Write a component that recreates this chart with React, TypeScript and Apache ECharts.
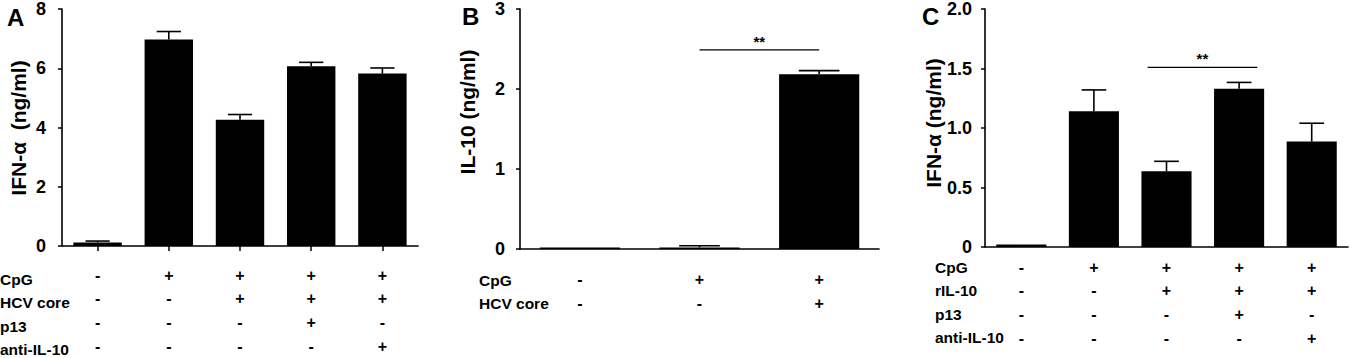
import React, { useEffect, useRef } from "react";
import * as echarts from "echarts";

// Panel A: IFN-alpha (ng/ml)
const aCpG = ["-", "+", "+", "+", "+"];
const aHCV = ["-", "-", "+", "+", "+"];
const aP13 = ["-", "-", "-", "+", "-"];
const aAnti = ["-", "-", "-", "-", "+"];
const aValues = [0.12, 6.97, 4.26, 6.07, 5.82];
const aErrTop = [0.17, 7.24, 4.44, 6.2, 6.01];
const aRowNames = ["CpG", "HCV core", "p13", "anti-IL-10"];

// Panel B: IL-10 (ng/ml)
const bCpG = ["-", "+", "+"];
const bHCV = ["-", "-", "+"];
const bValues = [0.02, 0.02, 2.185];
const bErrTop = [0.02, 0.04, 2.23];
const bRowNames = ["CpG", "HCV core"];
const bSig = [1, 2, 2.49]; // from category, to category, level

// Panel C: IFN-alpha (ng/ml)
const cCpG = ["-", "+", "+", "+", "+"];
const cRIL = ["-", "-", "+", "+", "+"];
const cP13 = ["-", "-", "-", "+", "-"];
const cAnti = ["-", "-", "-", "-", "+"];
const cValues = [0.02, 1.14, 0.636, 1.33, 0.886];
const cErrTop = [0.02, 1.32, 0.72, 1.383, 1.04];
const cRowNames = ["CpG", "rIL-10", "p13", "anti-IL-10"];
const cSig = [2, 3, 1.51];

const FONT = "'Liberation Sans', Arial, Helvetica, sans-serif";
const ROW = 23.6;
const ROW_FONT = 15.5;

function labels(rows: string[][]): string[] {
  return rows[0].map((_, i) => rows.map((r) => r[i]).join("\n"));
}

function errRender(params: any, api: any) {
  const x = api.value(0);
  const v = api.value(1);
  const e = api.value(2);
  if (e <= v) return null;
  const p0 = api.coord([x, v]);
  const p1 = api.coord([x, e]);
  const half = api.size([1, 0])[0] * 0.17;
  const st = { stroke: "#000", lineWidth: 1.6 };
  return {
    type: "group",
    children: [
      { type: "line", shape: { x1: p0[0], y1: p0[1], x2: p1[0], y2: p1[1] }, style: st },
      { type: "line", shape: { x1: p0[0] - half, y1: p1[1], x2: p0[0] + half, y2: p1[1] }, style: st },
    ],
  };
}

function sigRender(offL: number, offR: number) {
  return (params: any, api: any) => {
    const a = api.coord([api.value(0), api.value(2)]);
    const b = api.coord([api.value(1), api.value(2)]);
    const bw = api.size([1, 0])[0];
    const x1 = a[0] + offL * bw;
    const x2 = b[0] + offR * bw;
    return {
      type: "group",
      children: [
        { type: "line", shape: { x1, y1: a[1], x2, y2: a[1] }, style: { stroke: "#000", lineWidth: 1.3 } },
        {
          type: "text",
          x: (x1 + x2) / 2,
          y: a[1] - 1,
          style: { text: "**", fontSize: 15, fontWeight: "bold", fontFamily: FONT, fill: "#000", align: "center", verticalAlign: "bottom" },
        },
      ],
    };
  };
}

function makeX(idx: number, data: string[], margin: number, ticks: boolean) {
  return {
    type: "category",
    gridIndex: idx,
    data,
    axisLine: { show: true, lineStyle: { color: "#000", width: 1.6 } },
    axisTick: { show: ticks, alignWithLabel: true, length: 5, lineStyle: { color: "#000", width: 1.5 } },
    axisLabel: {
      interval: 0,
      margin,
      color: "#000",
      fontSize: ROW_FONT + 0.5,
      fontWeight: "bold",
      fontFamily: FONT,
      lineHeight: ROW,
    },
    splitLine: { show: false },
  };
}

function makeY(idx: number, max: number, interval: number, margin: number, fmt?: (v: number) => string) {
  return {
    type: "value",
    gridIndex: idx,
    min: 0,
    max,
    interval,
    axisLine: { show: true, lineStyle: { color: "#000", width: 1.6 } },
    axisTick: { show: true, length: 4, lineStyle: { color: "#000", width: 1.5 } },
    axisLabel: { margin, color: "#000", fontSize: 18, fontWeight: "bold", fontFamily: FONT, formatter: fmt },
    splitLine: { show: false },
  };
}

function rowTexts(names: string[], x: number, y0: number) {
  return names.map((n, i) => ({
    type: "text",
    x,
    y: y0 + i * ROW,
    style: { text: n, fontSize: ROW_FONT, fontWeight: "bold", fontFamily: FONT, fill: "#000", align: "left", verticalAlign: "middle" },
  }));
}

function titleText(t: string, x: number, y: number, size: number) {
  return {
    type: "text",
    x,
    y,
    style: { text: t, fontSize: size, fontWeight: "bold", fontFamily: FONT, fill: "#000", align: "left", verticalAlign: "middle" },
  };
}

function yTitle(t: string, x: number, y: number) {
  return {
    type: "text",
    x,
    y,
    rotation: Math.PI / 2,
    style: { text: t, fontSize: 21, fontWeight: "bold", fontFamily: FONT, fill: "#000", align: "center", verticalAlign: "middle" },
  };
}

export default function App() {
  const ref = useRef<HTMLDivElement>(null);
  useEffect(() => {
    if (!ref.current) return;
    const chart = echarts.init(ref.current, null, { renderer: "svg" });
    const idxA = aValues.map((v, i) => [i, v, aErrTop[i]]);
    const idxB = bValues.map((v, i) => [i, v, bErrTop[i]]);
    const idxC = cValues.map((v, i) => [i, v, cErrTop[i]]);
    chart.setOption({
      animation: false,
      backgroundColor: "#fff",
      textStyle: { fontFamily: FONT },
      grid: [
        { left: 62, top: 7, width: 356, height: 243 },
        { left: 520, top: 7, width: 359, height: 242 },
        { left: 985, top: 7, width: 363, height: 240 },
      ],
      xAxis: [
        makeX(0, labels([aCpG, aHCV, aP13, aAnti]), 17.5, true),
        makeX(1, labels([bCpG, bHCV]), 19, false),
        makeX(2, labels([cCpG, cRIL, cP13, cAnti]), 8.5, false),
      ],
      yAxis: [
        makeY(0, 8, 2, 16),
        makeY(1, 3, 1, 15),
        makeY(2, 2, 0.5, 13, (v: number) => (v === 0 ? "0" : v.toFixed(1))),
      ],
      series: [
        { type: "bar", xAxisIndex: 0, yAxisIndex: 0, data: aValues, barWidth: "68%", itemStyle: { color: "#000" } },
        { type: "bar", xAxisIndex: 1, yAxisIndex: 1, data: bValues, barWidth: "67%", itemStyle: { color: "#000" } },
        { type: "bar", xAxisIndex: 2, yAxisIndex: 2, data: cValues, barWidth: "69%", itemStyle: { color: "#000" } },
        { type: "custom", xAxisIndex: 0, yAxisIndex: 0, data: idxA, renderItem: errRender, encode: { x: 0, y: [1, 2] }, z: 3 },
        { type: "custom", xAxisIndex: 1, yAxisIndex: 1, data: idxB, renderItem: errRender, encode: { x: 0, y: [1, 2] }, z: 3 },
        { type: "custom", xAxisIndex: 2, yAxisIndex: 2, data: idxC, renderItem: errRender, encode: { x: 0, y: [1, 2] }, z: 3 },
        { type: "custom", xAxisIndex: 1, yAxisIndex: 1, data: [bSig], renderItem: sigRender(0, 0), encode: { x: [0, 1], y: 2 }, z: 3 },
        { type: "custom", xAxisIndex: 2, yAxisIndex: 2, data: [cSig], renderItem: sigRender(-0.26, 0.25), encode: { x: [0, 1], y: 2 }, z: 3 },
      ],
      graphic: [
        titleText("A", 7, 17, 24),
        titleText("B", 462, 16, 24),
        titleText("C", 922, 16, 24),
        yTitle("IFN-\u03b1  (ng/ml)", 18, 128),
        yTitle("IL-10 (ng/ml)", 467, 112),
        yTitle("IFN-\u03b1 (ng/ml)", 933, 123),
        ...rowTexts(aRowNames, 0, 279),
        ...rowTexts(bRowNames, 479, 280),
        ...rowTexts(cRowNames, 935, 267),
      ],
    });
    return () => chart.dispose();
  }, []);
  return <div ref={ref} style={{ position: "absolute", left: 0, top: 0, width: 1350, height: 358 }} />;
}
